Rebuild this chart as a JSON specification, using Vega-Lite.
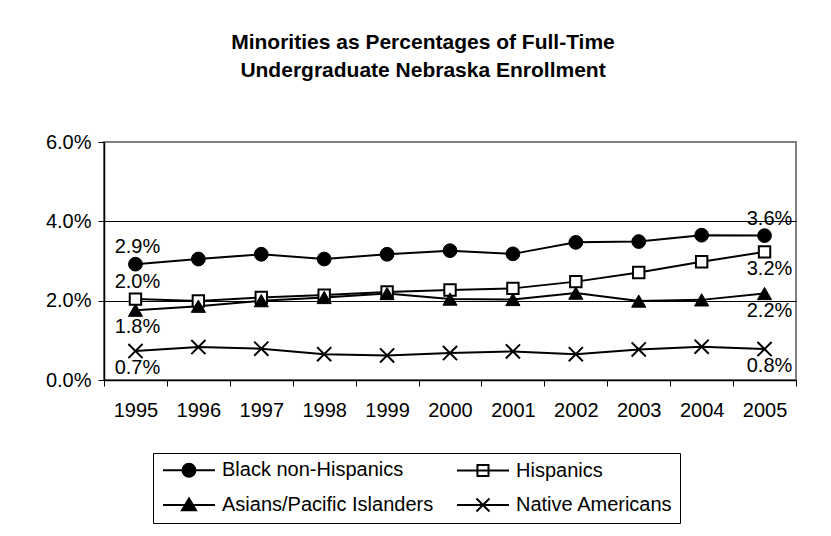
{
  "$schema": "https://vega.github.io/schema/vega-lite/v6.json",
  "width": 692,
  "height": 238,
  "autosize": {"type": "none"},
  "padding": {"left": 104, "top": 142, "right": 35, "bottom": 156},
  "background": "white",
  "config": {
    "view": {"stroke": "#808080", "strokeWidth": 2},
    "font": "Liberation Sans",
    "axis": {"labelFont": "Liberation Sans", "labelFontSize": 20, "labelColor": "black", "tickColor": "black", "domainColor": "black", "title": null}
  },
  "title": {
    "text": ["Minorities as Percentages of Full-Time", "Undergraduate Nebraska Enrollment"],
    "font": "Liberation Sans",
    "fontSize": 21,
    "fontWeight": "bold",
    "lineHeight": 28,
    "color": "black",
    "anchor": "middle",
    "dx": -27,
    "offset": 51
  },
  "data": {
    "values": [
      {"Year": 1995, "Group": "Black non-Hispanics", "Pct": 0.0292},
      {"Year": 1996, "Group": "Black non-Hispanics", "Pct": 0.0305},
      {"Year": 1997, "Group": "Black non-Hispanics", "Pct": 0.0317},
      {"Year": 1998, "Group": "Black non-Hispanics", "Pct": 0.0305},
      {"Year": 1999, "Group": "Black non-Hispanics", "Pct": 0.0317},
      {"Year": 2000, "Group": "Black non-Hispanics", "Pct": 0.0326},
      {"Year": 2001, "Group": "Black non-Hispanics", "Pct": 0.0318},
      {"Year": 2002, "Group": "Black non-Hispanics", "Pct": 0.0347},
      {"Year": 2003, "Group": "Black non-Hispanics", "Pct": 0.0349},
      {"Year": 2004, "Group": "Black non-Hispanics", "Pct": 0.0365},
      {"Year": 2005, "Group": "Black non-Hispanics", "Pct": 0.0364},
      {"Year": 1995, "Group": "Hispanics", "Pct": 0.0204},
      {"Year": 1996, "Group": "Hispanics", "Pct": 0.0199},
      {"Year": 1997, "Group": "Hispanics", "Pct": 0.0208},
      {"Year": 1998, "Group": "Hispanics", "Pct": 0.0214},
      {"Year": 1999, "Group": "Hispanics", "Pct": 0.0222},
      {"Year": 2000, "Group": "Hispanics", "Pct": 0.0227},
      {"Year": 2001, "Group": "Hispanics", "Pct": 0.0231},
      {"Year": 2002, "Group": "Hispanics", "Pct": 0.0248},
      {"Year": 2003, "Group": "Hispanics", "Pct": 0.0271},
      {"Year": 2004, "Group": "Hispanics", "Pct": 0.0298},
      {"Year": 2005, "Group": "Hispanics", "Pct": 0.0323},
      {"Year": 1995, "Group": "Asians/Pacific Islanders", "Pct": 0.0176},
      {"Year": 1996, "Group": "Asians/Pacific Islanders", "Pct": 0.0186},
      {"Year": 1997, "Group": "Asians/Pacific Islanders", "Pct": 0.0200},
      {"Year": 1998, "Group": "Asians/Pacific Islanders", "Pct": 0.0208},
      {"Year": 1999, "Group": "Asians/Pacific Islanders", "Pct": 0.0218},
      {"Year": 2000, "Group": "Asians/Pacific Islanders", "Pct": 0.0204},
      {"Year": 2001, "Group": "Asians/Pacific Islanders", "Pct": 0.0203},
      {"Year": 2002, "Group": "Asians/Pacific Islanders", "Pct": 0.0219},
      {"Year": 2003, "Group": "Asians/Pacific Islanders", "Pct": 0.0199},
      {"Year": 2004, "Group": "Asians/Pacific Islanders", "Pct": 0.0202},
      {"Year": 2005, "Group": "Asians/Pacific Islanders", "Pct": 0.0218},
      {"Year": 1995, "Group": "Native Americans", "Pct": 0.0073},
      {"Year": 1996, "Group": "Native Americans", "Pct": 0.0083},
      {"Year": 1997, "Group": "Native Americans", "Pct": 0.0079},
      {"Year": 1998, "Group": "Native Americans", "Pct": 0.0065},
      {"Year": 1999, "Group": "Native Americans", "Pct": 0.0062},
      {"Year": 2000, "Group": "Native Americans", "Pct": 0.0068},
      {"Year": 2001, "Group": "Native Americans", "Pct": 0.0072},
      {"Year": 2002, "Group": "Native Americans", "Pct": 0.0065},
      {"Year": 2003, "Group": "Native Americans", "Pct": 0.0077},
      {"Year": 2004, "Group": "Native Americans", "Pct": 0.0084},
      {"Year": 2005, "Group": "Native Americans", "Pct": 0.0078}
    ]
  },
  "encoding": {
    "x": {
      "field": "Year",
      "type": "ordinal",
      "scale": {"paddingInner": 0, "paddingOuter": 0},
      "axis": {"labelAngle": 0, "tickBand": "extent", "tickSize": 6, "labelPadding": 14, "domainWidth": 1.5, "grid": false}
    },
    "y": {
      "field": "Pct",
      "type": "quantitative",
      "scale": {"domain": [0, 0.06], "nice": false},
      "axis": {
        "values": [0, 0.02, 0.04, 0.06],
        "format": ".1%",
        "tickSize": 6,
        "labelPadding": 7,
        "domainWidth": 1.5,
        "grid": true,
        "gridColor": {"condition": {"test": "datum.value >= 0.059", "value": "#808080"}, "value": "black"},
        "gridWidth": 1
      }
    }
  },
  "layer": [
    {
      "mark": {"type": "line", "color": "black", "strokeWidth": 2},
      "encoding": {
        "detail": {"field": "Group"},
        "opacity": {
          "field": "Group",
          "type": "ordinal",
          "scale": {
            "domain": ["Black non-Hispanics", "Hispanics", "Asians/Pacific Islanders", "Native Americans"],
            "range": [1, 1, 1, 1]
          },
          "legend": {
            "orient": "none",
            "legendX": 49,
            "legendY": 311,
            "columns": 2,
            "direction": "horizontal",
            "gridAlign": "all",
            "title": null,
            "symbolSize": 196,
            "symbolStrokeWidth": 2,
            "symbolStrokeColor": "black",
            "labelFont": "Liberation Sans",
            "labelFontSize": 20,
            "labelColor": "black",
            "labelOffset": 42,
            "labelLimit": 400,
            "strokeColor": "black",
            "padding": 7,
            "rowPadding": 13,
            "columnPadding": 19,
            "encoding": {
              "symbols": {
                "shape": {
                  "condition": [
                    {"test": "datum.value === 'Black non-Hispanics'", "value": "M-1,0H6.43M3.64,0A0.93,0.93,0,1,1,1.78,0A0.93,0.93,0,1,1,3.64,0Z"},
                    {"test": "datum.value === 'Hispanics'", "value": "M-1,0H6.43M1.92,-0.79H3.5V0.79H1.92Z"},
                    {"test": "datum.value === 'Asians/Pacific Islanders'", "value": "M-1,0H6.43M2.71,-0.95L3.71,0.75L1.71,0.75Z"}
                  ],
                  "value": "M-1,0H6.43M1.78,-0.93L3.64,0.93M1.78,0.93L3.64,-0.93"
                },
                "fill": {"condition": {"test": "datum.value === 'Hispanics'", "value": "white"}, "value": "black"},
                "stroke": {"value": "black"},
                "strokeWidth": {"value": 2}
              }
            }
          }
        }
      }
    },
    {
      "transform": [{"filter": "datum.Group == 'Black non-Hispanics'"}],
      "mark": {"type": "point", "shape": "circle", "filled": true, "fill": "black", "stroke": "black", "strokeWidth": 1, "size": 190, "opacity": 1}
    },
    {
      "transform": [{"filter": "datum.Group == 'Hispanics'"}],
      "mark": {"type": "point", "shape": "M-0.85,-0.85H0.85V0.85H-0.85Z", "filled": true, "fill": "white", "stroke": "black", "strokeWidth": 2, "size": 180, "opacity": 1}
    },
    {
      "transform": [{"filter": "datum.Group == 'Asians/Pacific Islanders'"}],
      "mark": {"type": "point", "shape": "triangle-up", "filled": true, "fill": "black", "stroke": "black", "strokeWidth": 1, "size": 200, "opacity": 1}
    },
    {
      "transform": [{"filter": "datum.Group == 'Native Americans'"}],
      "mark": {"type": "point", "shape": "M-1,-1L1,1M-1,1L1,-1", "filled": false, "stroke": "black", "strokeWidth": 2, "size": 200, "opacity": 1}
    },
    {
      "transform": [{"filter": "datum.Year == 1995 && (datum.Group == 'Black non-Hispanics' || datum.Group == 'Hispanics')"}],
      "mark": {"type": "text", "font": "Liberation Sans", "fontSize": 20, "color": "black", "baseline": "middle", "dy": -17, "dx": 2},
      "encoding": {"text": {"field": "Pct", "type": "quantitative", "format": ".1%"}}
    },
    {
      "transform": [{"filter": "datum.Year == 1995 && (datum.Group == 'Asians/Pacific Islanders' || datum.Group == 'Native Americans')"}],
      "mark": {"type": "text", "font": "Liberation Sans", "fontSize": 20, "color": "black", "baseline": "middle", "dy": 17, "dx": 2},
      "encoding": {"text": {"field": "Pct", "type": "quantitative", "format": ".1%"}}
    },
    {
      "transform": [{"filter": "datum.Year == 2005 && datum.Group == 'Black non-Hispanics'"}],
      "mark": {"type": "text", "font": "Liberation Sans", "fontSize": 20, "color": "black", "baseline": "middle", "dy": -17, "dx": 5},
      "encoding": {"text": {"field": "Pct", "type": "quantitative", "format": ".1%"}}
    },
    {
      "transform": [{"filter": "datum.Year == 2005 && datum.Group != 'Black non-Hispanics'"}],
      "mark": {"type": "text", "font": "Liberation Sans", "fontSize": 20, "color": "black", "baseline": "middle", "dy": 17, "dx": 5},
      "encoding": {"text": {"field": "Pct", "type": "quantitative", "format": ".1%"}}
    }
  ]
}
